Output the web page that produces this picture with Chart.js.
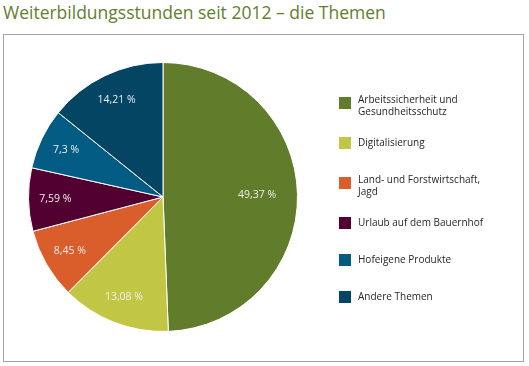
<!DOCTYPE html>
<html>
<head>
<meta charset="utf-8">
<script src="https://cdn.jsdelivr.net/npm/chart.js@4"></script>
<style>
  html, body { margin:0; padding:0; background:#fff; }
  body { width:529px; height:366px; position:relative; overflow:hidden; font-family:"Open Sans", sans-serif; }
  #title { position:absolute; left:3px; top:0px; font-size:17.5px; color:#5f802c; white-space:nowrap; }
  #frame { position:absolute; left:3px; top:34px; width:519px; height:326px; border:1px solid #a3a3a3; box-sizing:content-box; }
  #wrap { position:absolute; left:4px; top:35px; width:518px; height:325px; }
  #legend { position:absolute; left:339px; top:0; font-size:10px; color:#262626; }
  .item { position:absolute; left:0; width:180px; }
  .sw { position:absolute; left:0; width:12px; height:12px; }
  .tx { position:absolute; left:19px; line-height:11.5px; white-space:nowrap; }
</style>
</head>
<body>
<div id="title">Weiterbildungsstunden seit 2012 – die Themen</div>
<div id="frame"></div>
<div id="wrap"><canvas id="c" width="518" height="325"></canvas></div>
<div id="legend"></div>
<script>
const categories = [
  ["Arbeitssicherheit und", "Gesundheitsschutz"],
  ["Digitalisierung"],
  ["Land- und Forstwirtschaft,", "Jagd"],
  ["Urlaub auf dem Bauernhof"],
  ["Hofeigene Produkte"],
  ["Andere Themen"]
];
const values = [49.37, 13.08, 8.45, 7.59, 7.3, 14.21];
const valueLabels = ["49,37 %", "13,08 %", "8,45 %", "7,59 %", "7,3 %", "14,21 %"];
const colors = ["#617c2b", "#c1c744", "#d95e2c", "#520032", "#015b82", "#044563"];

// legend (HTML, real text)
const legendTops = [97, 137, 177, 217, 254, 291];
const legend = document.getElementById('legend');
categories.forEach((lines, i) => {
  const it = document.createElement('div');
  it.className = 'item';
  it.style.top = legendTops[i] + 'px';
  const sw = document.createElement('div');
  sw.className = 'sw';
  sw.style.background = colors[i];
  const tx = document.createElement('div');
  tx.className = 'tx';
  tx.style.top = (lines.length > 1 ? -3 : 0) + 'px';
  tx.innerHTML = lines.join('<br>');
  it.appendChild(sw); it.appendChild(tx);
  legend.appendChild(it);
});

const labelPlugin = {
  id: 'sliceLabels',
  afterDatasetsDraw(chart) {
    const ctx = chart.ctx;
    const meta = chart.getDatasetMeta(0);
    ctx.save();
    ctx.font = '10.5px "Open Sans", sans-serif';
    ctx.fillStyle = '#eeeeee';
    ctx.textAlign = 'center';
    ctx.textBaseline = 'middle';
    meta.data.forEach((arc, i) => {
      const p = arc.getProps(['x','y','startAngle','endAngle','outerRadius'], true);
      const mid = (p.startAngle + p.endAngle) / 2;
      const f = values[i] > 40 ? 0.7 : 0.8;
      const r = p.outerRadius * f;
      ctx.fillText(valueLabels[i], p.x + Math.cos(mid) * r, p.y + Math.sin(mid) * r);
    });
    ctx.restore();
  }
};

new Chart(document.getElementById('c'), {
  type: 'pie',
  data: {
    labels: categories.map(l => l.join(' ')),
    datasets: [{
      data: values,
      backgroundColor: colors,
      borderColor: '#ffffff',
      borderWidth: 1
    }]
  },
  options: {
    responsive: false,
    animation: false,
    layout: { padding: { left: 24, right: 224, top: 27, bottom: 28 } },
    plugins: { legend: { display: false }, tooltip: { enabled: false } }
  },
  plugins: [labelPlugin]
});
</script>
</body>
</html>
